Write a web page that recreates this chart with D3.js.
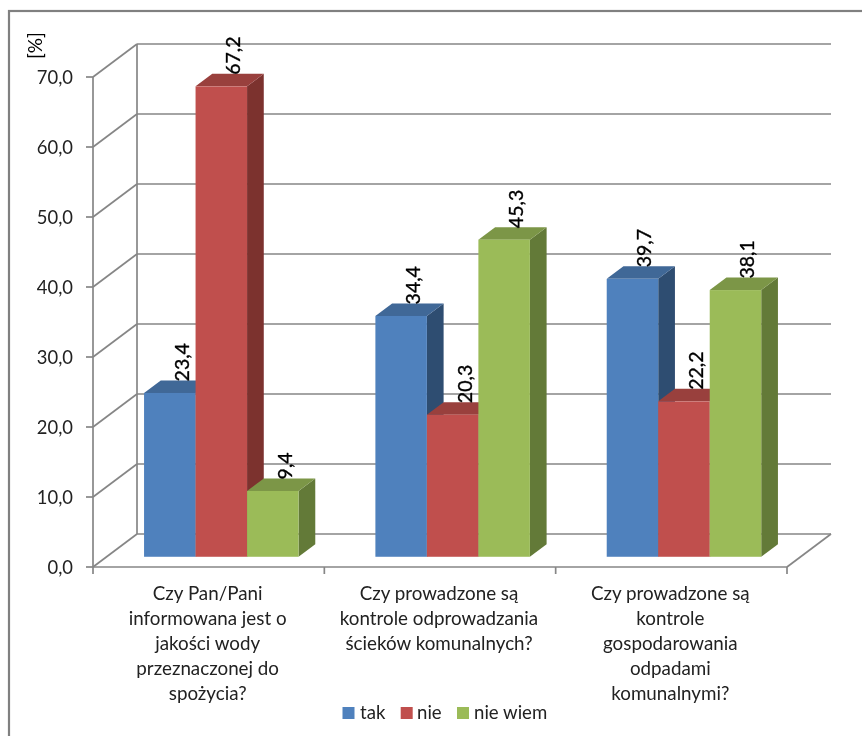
<!DOCTYPE html>
<html><head><meta charset="utf-8">
<script src="https://cdn.jsdelivr.net/npm/d3@7"></script>
<style>html,body{margin:0;background:#fff}svg{display:block}text{font-family:Lato,sans-serif;fill:#222}</style>
</head><body><svg id="c" width="862" height="736"></svg>
<script>
const categories=[["Czy Pan/Pani","informowana jest o","jakości wody","przeznaczonej do","spożycia?"],["Czy prowadzone są","kontrole odprowadzania","ścieków komunalnych?"],["Czy prowadzone są","kontrole","gospodarowania","odpadami","komunalnymi?"]];
const seriesNames=["tak","nie","nie wiem"];
const tak=[23.4,34.4,39.7];
const nie=[67.2,20.3,22.2];
const nieWiem=[9.4,45.3,38.1];
const tickValues=[0,10,20,30,40,50,60,70];
const colors=[{f:"#4f81bd",t:"#3f6797",s:"#2f4d71"},{f:"#c0504d",t:"#99403d",s:"#7b312f"},{f:"#9bbb59",t:"#7c9647",s:"#647a38"}];
const svg=d3.select("#c");
const soft=svg.append("defs").append("filter").attr("id","soft").attr("x",0).attr("y",0).attr("filterUnits","userSpaceOnUse").attr("width",862).attr("height",736);
soft.append("feGaussianBlur").attr("stdDeviation",0.4);
const root=svg.append("g").attr("filter","url(#soft)");
root.append("rect").attr("width",862).attr("height",736).attr("fill","#fff");
root.append("rect").attr("x",9).attr("y",11).attr("width",880).attr("height",760).attr("fill","#fff").attr("stroke","#808080").attr("stroke-width",2.2);
const y=d3.scaleLinear().domain([0,70]).range([567,77]);
const x=d3.scaleBand().domain([0,1,2]).range([93,787]);
const sub=d3.scaleBand().domain([0,1,2]).range([0,154.5]);
const DX=44,DY=-33;
const gc="#868686";
const line=(a,b,c,d,w=1.7)=>root.append("line").attr("x1",a).attr("y1",b).attr("x2",c).attr("y2",d).attr("stroke",gc).attr("stroke-width",w);
tickValues.forEach(v=>{
  line(93,y(v),93+DX,y(v)+DY);
  line(93+DX,y(v)+DY,787+DX,y(v)+DY);
  line(86,y(v),93,y(v));
  root.append("text").attr("x",73).attr("y",y(v)+7).attr("text-anchor","end").attr("font-size",18.4).text(d3.format(".1f")(v).replace(".",","));
});
line(93,y(0),93,y(70));
line(93+DX,y(0)+DY,93+DX,y(70)+DY);
line(93,y(0),787,y(0));
line(787,y(0),787+DX,y(0)+DY);
[0,1,2,3].forEach(i=>{const px=i<3?x(i):787;line(px,567,px,574);});
root.append("text").attr("transform","translate(42,59) rotate(-90)").attr("font-size",19).style("fill","#000").text("[%]");
const vals=[tak,nie,nieWiem];
const p1=0.31,p2=0.69;
const barW=sub.bandwidth();
const pts=a=>a.map(d=>d.join(",")).join(" ");
[0,1,2].forEach(c=>{
  const x0=x(c)+(x.bandwidth()-154.5)/2+DX*p1-1;
  [0,1,2].forEach(s=>{
    const v=vals[s][c],col=colors[s];
    const X=x0+sub(s),Y0=y(0)+DY*p1,Yv=y(v)+DY*p1;
    const ddx=DX*(p2-p1),ddy=DY*(p2-p1);
    root.append("polygon").attr("points",pts([[X+barW,Y0],[X+barW+ddx,Y0+ddy],[X+barW+ddx,Yv+ddy],[X+barW,Yv]])).attr("fill",col.s);
    root.append("polygon").attr("points",pts([[X,Yv],[X+ddx,Yv+ddy],[X+barW+ddx,Yv+ddy],[X+barW,Yv]])).attr("fill",col.t);
    root.append("rect").attr("x",X).attr("y",Yv).attr("width",barW).attr("height",Y0-Yv).attr("fill",col.f);
  });
  [0,1,2].forEach(s=>{
    const v=vals[s][c];
    const X=x0+sub(s)+barW/2+19,Yv=y(v)+DY*p2+1;
    root.append("text").attr("transform",`translate(${X},${Yv}) rotate(-90)`).attr("font-size",19.5).attr("stroke","#000").attr("stroke-width",0.35).style("fill","#000").text(String(v).replace(".",","));
  });
  const t=root.append("text").attr("text-anchor","middle").attr("font-size",18.8);
  categories[c].forEach((l,i)=>t.append("tspan").attr("x",x(c)+x.bandwidth()/2-1).attr("y",600+i*25).text(l));
});
const lx=[342.5,400.7,457],lt=[360,417,474];
seriesNames.forEach((n,i)=>{
  root.append("rect").attr("x",lx[i]).attr("y",707).attr("width",12).attr("height",12).attr("fill",colors[i].f);
  root.append("text").attr("x",lt[i]).attr("y",719).attr("font-size",18.6).text(n);
});
</script></body></html>
